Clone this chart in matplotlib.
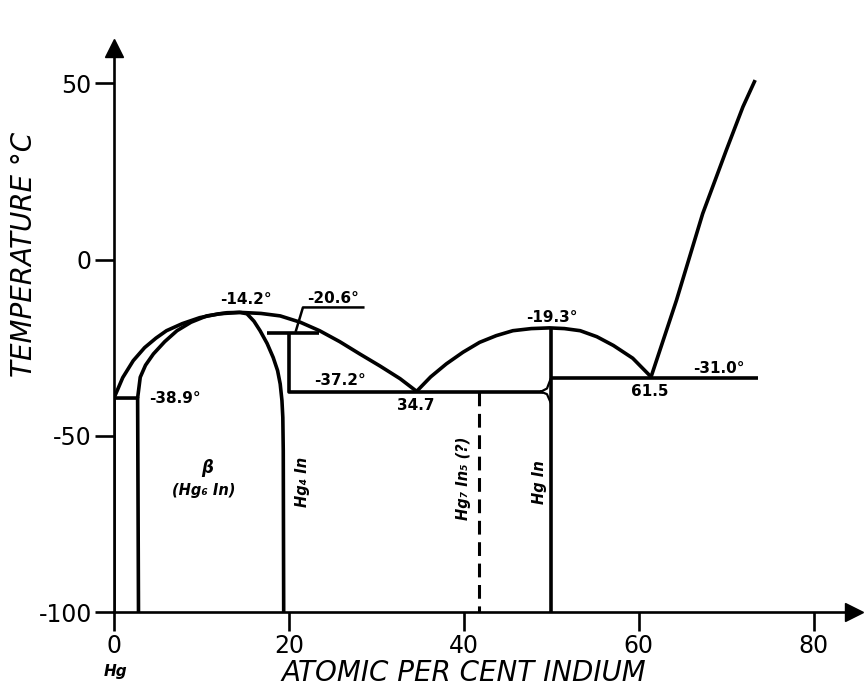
import matplotlib
matplotlib.use("Agg")
import matplotlib.pyplot as plt

plt.rcParams['axes.unicode_minus'] = False
plt.rcParams['font.family'] = ['DejaVu Sans']

# ---- data (x: at.% In, y: temperature °C) ----
liq1_x = [0.0, 1.0, 2.2, 3.5, 4.8, 6.0, 7.8, 9.8, 12.0, 14.4, 16.8, 19.0, 21.3, 23.5, 25.8, 28.1, 30.4, 32.7, 34.6]
liq1_t = [-39.3, -33.5, -28.7, -25.0, -22.3, -20.2, -18.2, -16.5, -15.4, -15.0, -15.3, -16.0, -17.8, -20.2, -23.3, -26.8, -30.2, -33.8, -37.4]

sol_left_x = [2.7, 3.0, 3.6, 4.5, 5.8, 7.2, 8.8, 10.6, 12.9, 14.4]
sol_left_t = [-39.3, -33.4, -30.0, -26.8, -23.3, -20.2, -17.8, -16.0, -15.1, -15.0]

beta_right_x = [14.4, 15.2, 16.0, 16.7, 17.5, 18.2, 18.7, 19.0, 19.2, 19.3, 19.35, 19.4]
beta_right_t = [-15.0, -15.4, -17.5, -20.2, -23.8, -27.8, -31.5, -35.3, -40.0, -44.8, -54.3, -100.0]

liq2_x = [34.6, 36.2, 38.0, 39.9, 41.8, 43.7, 45.6, 47.7, 49.8, 51.5, 53.3, 55.2, 57.1, 59.3, 61.4]
liq2_t = [-37.4, -33.3, -29.6, -26.3, -23.5, -21.6, -20.2, -19.6, -19.4, -19.6, -20.2, -21.9, -24.4, -28.0, -33.3]

liq3_x = [61.4, 64.3, 67.3, 70.0, 71.9, 73.3]
liq3_t = [-33.3, -11.6, 13.0, 31.0, 43.3, 50.9]

# invariant lines / phase boundaries
hg_x = [0.0, 0.0];          hg_t = [-39.3, -100.0]
beta_left_x = [0.0, 2.7, 2.8]; beta_left_t = [-39.3, -39.3, -100.0]
peri_x = [17.5, 23.4];      peri_t = [-20.9, -20.9]
hg4in_x = [20.0, 20.0, 49.0]; hg4in_t = [-20.9, -37.5, -37.5]
hgin_x = [50.0, 50.0];      hgin_t = [-19.4, -100.0]
eut2_x = [50.0, 73.6];      eut2_t = [-33.5, -33.5]
hg7in5_x = [41.7, 41.7];    hg7in5_t = [-37.5, -100.0]
fillet_up_x = [48.8, 49.5, 49.9]; fillet_up_t = [-37.5, -36.6, -34.0]
fillet_dn_x = [48.8, 49.5, 49.9]; fillet_dn_t = [-37.5, -38.2, -40.5]
leader_x = [20.8, 21.6, 28.5]; leader_t = [-20.2, -13.6, -13.6]

x_ticks = [0, 20, 40, 60, 80]
y_ticks = [-100, -50, 0, 50]
y_ticklabels = ['-100', '-50', '0', '50']

labels = [  # text, x, t
    ('-14.2°', 15.1, -11.4),
    ('-20.6°', 25.0, -11.1),
    ('-38.9°', 7.0, -39.5),
    ('-37.2°', 25.8, -34.4),
    ('34.7', 34.5, -41.5),
    ('-19.3°', 50.1, -16.5),
    ('61.5', 61.3, -37.5),
    ('-31.0°', 69.1, -31.0),
]

W, H = 865, 688
fig = plt.figure(figsize=(W / 100, H / 100), dpi=100)
ax = fig.add_axes([114 / W, (H - 612) / H, 740 / W, 564 / H])
ax.set_xlim(0, 84.6)
ax.set_ylim(-100, 60)

lw = 2.6
kw = dict(color='black', lw=lw, solid_capstyle='butt', solid_joinstyle='round')
ax.plot(liq1_x, liq1_t, **kw)
ax.plot(sol_left_x, sol_left_t, **kw)
ax.plot(beta_right_x, beta_right_t, **kw)
ax.plot(liq2_x, liq2_t, **kw)
ax.plot(liq3_x, liq3_t, **kw)
ax.plot(hg_x, hg_t, **kw)
ax.plot(beta_left_x, beta_left_t, **kw)
ax.plot(peri_x, peri_t, **kw)
ax.plot(hg4in_x, hg4in_t, **kw)
ax.plot(hgin_x, hgin_t, **kw)
ax.plot(eut2_x, eut2_t, **kw)
ax.plot(fillet_up_x, fillet_up_t, color='black', lw=1.6)
ax.plot(fillet_dn_x, fillet_dn_t, color='black', lw=1.6)
ax.plot(leader_x, leader_t, color='black', lw=1.8)
ax.plot(hg7in5_x, hg7in5_t, color='black', lw=2.2, linestyle=(0, (4.5, 2.5)))

for txt, x, t in labels:
    ax.text(x, t, txt, ha='center', va='center', fontsize=11, fontweight='bold')

ax.text(10.7, -59.1, 'β', ha='center', va='center', fontsize=12,
        fontweight='bold', style='italic')
ax.text(10.3, -65.6, '(Hg₆ In)', ha='center', va='center', fontsize=10.5,
        fontweight='bold', style='italic')
ax.text(21.5, -63.1, 'Hg₄ In', ha='center', va='center', fontsize=10.5,
        fontweight='bold', style='italic', rotation=90)
ax.text(39.9, -62.2, 'Hg₇ In₅ (?)', ha='center', va='center', fontsize=10.5,
        fontweight='bold', style='italic', rotation=90)
ax.text(48.7, -63.1, 'Hg In', ha='center', va='center', fontsize=10.5,
        fontweight='bold', style='italic', rotation=90)
ax.text(0.2, -117, 'Hg', ha='center', va='center', fontsize=11,
        fontweight='bold', style='italic', clip_on=False)

# axes styling
for s in ('top', 'right'):
    ax.spines[s].set_visible(False)
for s in ('left', 'bottom'):
    ax.spines[s].set_linewidth(1.9)
ax.set_xticks(x_ticks)
ax.set_xticklabels([str(v) for v in x_ticks])
ax.set_yticks(y_ticks)
ax.set_yticklabels(y_ticklabels)
ax.tick_params(axis='both', direction='out', length=14, width=1.9, labelsize=17)
ax.tick_params(axis='x', pad=2)
ax.tick_params(axis='y', pad=2)

ax.plot([1], [0], marker='>', ms=13, color='black', transform=ax.transAxes, clip_on=False)
ax.plot([0], [1], marker='^', ms=13, color='black', transform=ax.transAxes, clip_on=False)

fig.text(464 / W, 1 - 673 / H, 'ATOMIC PER CENT INDIUM', ha='center', va='center',
         fontsize=20, style='italic')
fig.text(24 / W, 1 - 254 / H, 'TEMPERATURE °C', ha='center', va='center',
         fontsize=20, style='italic', rotation=90)

fig.savefig('out.png', dpi=100)
